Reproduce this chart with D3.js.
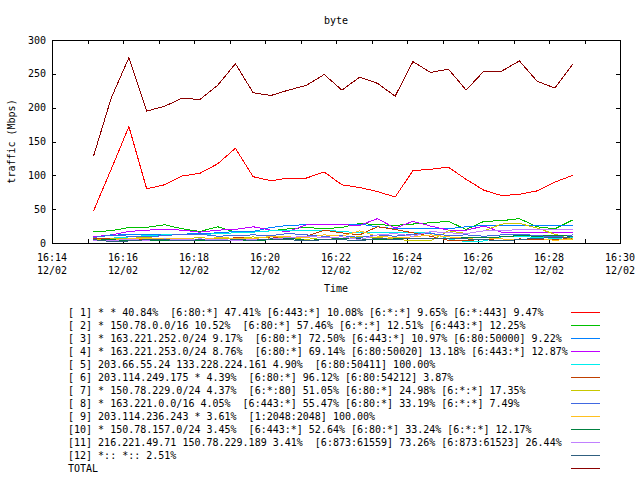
<!DOCTYPE html>
<html><head><meta charset="utf-8">
<script src="https://cdn.jsdelivr.net/npm/d3@7"></script>
<style>
body{margin:0;background:#fff}
text{font-family:"DejaVu Sans Mono","Liberation Mono",monospace;font-size:10px;fill:#000}
</style>
</head><body><svg id="c" width="640" height="480"></svg>
<script>
const times = ["16:15:10","16:15:40","16:16:10","16:16:40","16:17:10","16:17:40","16:18:10","16:18:40",
  "16:19:10","16:19:40","16:20:10","16:20:40","16:21:10","16:21:40","16:22:10","16:22:40","16:23:10",
  "16:23:40","16:24:10","16:24:40","16:25:10","16:25:40","16:26:10","16:26:40","16:27:10","16:27:40",
  "16:28:10","16:28:40"];
const s1  = [47,109,172,80,86,99,103,117,140,98,92,96,96,105,86,82,76,68,107,109,112,94,78,70,72,77,90,100];
const s2  = [17,18,23,23,27,21,17,24,16,16,18,21,23,21,23,29,27,26,28,30,32,20,32,33,36,24,21,34];
const s3  = [9,11,13,12,12,13,14,15,17,17,23,26,27,27,27,28,24,21,21,21,21,24,26,26,26,26,26,26];
const s4  = [9,12,17,19,20,19,16,19,20,24,19,17,27,27,27,26,36,22,32,25,19,19,25,16,16,15,15,15];
const s5  = [5,7,9,11,12,12,12,14,15,16,18,19,19,19,17,15,15,15,15,15,6,2,3,9,10,8,7,8];
const s6  = [6,6,5,6,7,5,6,4,8,7,9,8,10,19,15,12,24,20,15,10,4,4,5,4,6,5,5,7];
const s7  = [4,6,7,8,6,6,8,6,6,9,7,8,5,9,5,10,8,6,3,3,18,14,18,28,29,22,13,5];
const s8  = [8,12,10,9,11,13,13,10,11,12,11,14,12,10,11,8,12,10,13,14,11,12,10,12,13,11,9,12];
const s9  = [3,5,6,7,6,7,5,8,7,6,10,9,8,12,10,18,10,8,9,12,9,7,8,6,5,7,4,6];
const s10 = [4,5,3,3,4,5,4,3,4,3,5,7,4,5,7,6,5,6,7,6,6,8,8,9,11,10,11,10];
const s11 = [3,4,5,4,6,5,6,5,4,5,6,8,10,8,9,5,12,14,10,17,15,14,18,18,20,20,20,20];
const s12 = [5,2,3,5,5,3,5,3,5,4,6,5,3,5,5,3,7,5,7,6,6,6,5,3,5,7,8,9];
const total = [128,214,274,195,202,214,212,233,265,222,218,226,233,249,226,245,236,217,268,252,257,226,254,254,269,239,229,264];
const seriesValues = [s1,s2,s3,s4,s5,s6,s7,s8,s9,s10,s11,s12,total];
const legendLabels = [
  "[ 1] * * 40.84%  [6:80:*] 47.41% [6:443:*] 10.08% [6:*:*] 9.65% [6:*:443] 9.47%",
  "[ 2] * 150.78.0.0/16 10.52%  [6:80:*] 57.46% [6:*:*] 12.51% [6:443:*] 12.25%",
  "[ 3] * 163.221.252.0/24 9.17%  [6:80:*] 72.50% [6:443:*] 10.97% [6:80:50000] 9.22%",
  "[ 4] * 163.221.253.0/24 8.76%  [6:80:*] 69.14% [6:80:50020] 13.18% [6:443:*] 12.87%",
  "[ 5] 203.66.55.24 133.228.224.161 4.90%  [6:80:50411] 100.00%",
  "[ 6] 203.114.249.175 * 4.39%  [6:80:*] 96.12% [6:80:54212] 3.87%",
  "[ 7] * 150.78.229.0/24 4.37%  [6:*:80] 51.05% [6:80:*] 24.98% [6:*:*] 17.35%",
  "[ 8] * 163.221.0.0/16 4.05%  [6:443:*] 55.47% [6:80:*] 33.19% [6:*:*] 7.49%",
  "[ 9] 203.114.236.243 * 3.61%  [1:2048:2048] 100.00%",
  "[10] * 150.78.157.0/24 3.45%  [6:443:*] 52.64% [6:80:*] 33.24% [6:*:*] 12.17%",
  "[11] 216.221.49.71 150.78.229.189 3.41%  [6:873:61559] 73.26% [6:873:61523] 26.44%",
  "[12] *:: *:: 2.51%",
  "TOTAL"
];
const colors = ["#ff0000","#00c000","#0080ff","#c000ff","#00eeee","#c04000","#c8c800","#4169e1","#ffc020","#008040","#c080ff","#306080","#8b0000"];
const yTicks = [0,50,100,150,200,250,300];
const dateLabel = "12/02";
const title = "byte", xTitle = "Time", yTitle = "traffic (Mbps)";

const svg = d3.select("#c");
const parse = d3.timeParse("%Y-%m-%d %H:%M:%S");
const day = "2009-12-02 ";
const t0 = parse(day+"16:14:00"), t1 = parse(day+"16:30:00");
const x = d3.scaleTime().domain([t0,t1]).range([52,620]);
const y = d3.scaleLinear().domain([0,300]).range([243,40]);
const L = 52, R = 620, T = 40, B = 243;

svg.append("rect").attr("width",640).attr("height",480).attr("fill","#fff");

// ticks
function styleAxis(g){ g.select(".domain").remove(); g.selectAll("line").attr("stroke","#000").attr("shape-rendering","crispEdges"); g.selectAll("text").remove(); }
const everyMin = d3.timeMinute.every(1);
svg.append("g").attr("transform",`translate(0,${B})`).call(d3.axisBottom(x).ticks(everyMin).tickSize(-4).tickFormat("")).call(styleAxis);
svg.append("g").attr("transform",`translate(0,${T})`).call(d3.axisTop(x).ticks(everyMin).tickSize(-4).tickFormat("")).call(styleAxis);
svg.append("g").attr("transform",`translate(${L},0)`).call(d3.axisLeft(y).tickValues(yTicks).tickSize(-4).tickFormat("")).call(styleAxis);
svg.append("g").attr("transform",`translate(${R},0)`).call(d3.axisRight(y).tickValues(yTicks).tickSize(-4).tickFormat("")).call(styleAxis);

// tick labels
yTicks.forEach(v=>{
  svg.append("text").attr("x",46).attr("y",y(v)+3.5).attr("text-anchor","end").text(v);
});
const fmt = d3.timeFormat("%H:%M");
d3.timeMinute.every(2).range(t0, d3.timeMinute.offset(t1,1)).forEach(t=>{
  svg.append("text").attr("x",x(t)).attr("y",261).attr("text-anchor","middle").text(fmt(t));
  svg.append("text").attr("x",x(t)).attr("y",274).attr("text-anchor","middle").text(dateLabel);
});

// titles
svg.append("text").attr("x",(L+R)/2).attr("y",24).attr("text-anchor","middle").text(title);
svg.append("text").attr("x",(L+R)/2).attr("y",292).attr("text-anchor","middle").text(xTitle);
svg.append("text").attr("transform",`translate(14.5,${(T+B)/2}) rotate(-90)`).attr("text-anchor","middle").text(yTitle);

// lines
const tp = times.map(s=>parse(day+s));
const line = d3.line().x((d,i)=>x(tp[i])).y(d=>y(d));
seriesValues.forEach((vals,k)=>{
  svg.append("path").attr("d",line(vals)).attr("fill","none").attr("stroke",colors[k])
    .attr("stroke-width",1).attr("shape-rendering","crispEdges");
});

// border
svg.append("rect").attr("x",L+0.5).attr("y",T+0.5).attr("width",R-L).attr("height",B-T)
  .attr("fill","none").attr("stroke","#000").attr("shape-rendering","crispEdges");

// legend
legendLabels.forEach((lab,i)=>{
  const ly = 312 + 13*i;
  svg.append("text").attr("x",68).attr("y",ly+4).attr("xml:space","preserve").style("white-space","pre").text(lab);
  svg.append("line").attr("x1",571).attr("x2",600).attr("y1",ly+0.5).attr("y2",ly+0.5)
    .attr("stroke",colors[i]).attr("stroke-width",1).attr("shape-rendering","crispEdges");
});
</script></body></html>
